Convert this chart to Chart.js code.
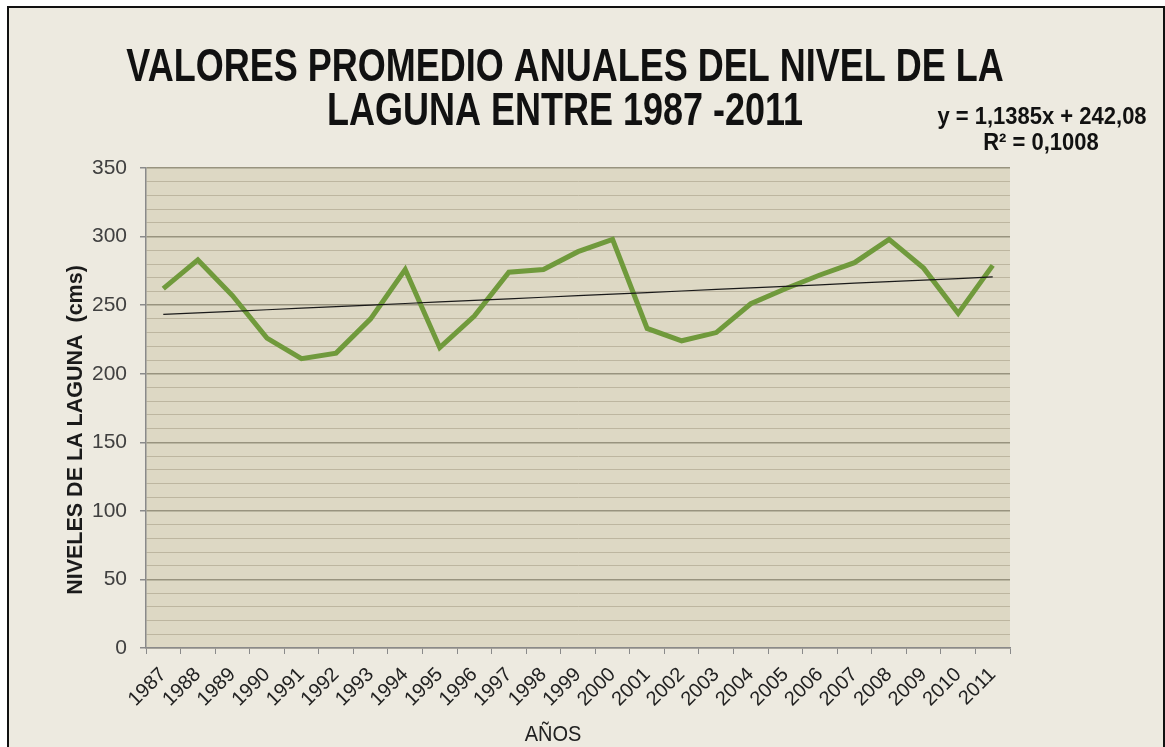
<!DOCTYPE html>
<html>
<head>
<meta charset="utf-8">
<script src="https://cdn.jsdelivr.net/npm/chart.js@4.4.1/dist/chart.umd.min.js"></script>
<style>
  body { margin: 0; background: #ffffff; }
  .frame {
    position: absolute; left: 7px; top: 6px; width: 1154px; height: 760px;
    border: 2px solid #111; background: #edeae0;
  }
  #levelChart { position: absolute; left: 0; top: 0; }
</style>
</head>
<body>
<div class="frame"></div>
<canvas id="levelChart" width="1165" height="747"></canvas>
<script>
// años y niveles promedio (cms)
const years = ['1987', '1988', '1989', '1990', '1991', '1992', '1993', '1994', '1995', '1996', '1997', '1998', '1999',
  '2000', '2001', '2002', '2003', '2004', '2005', '2006', '2007', '2008', '2009', '2010', '2011'];
const levels = [262, 283, 257, 226, 211, 215, 240, 276, 219, 242, 274, 276, 289,
  298, 233, 224, 230, 251, 262, 272, 281, 298, 277, 244, 279];

// linea de tendencia del grafico original
const trendSlope = 1.1385;
const trendIntercept = 242.08;
const trendLabel = ['y = 1,1385x + 242,08', 'R\u00b2 = 0,1008'];

const titleLines = ['VALORES PROMEDIO ANUALES DEL NIVEL DE LA', 'LAGUNA ENTRE 1987 -2011'];
const yTitle = 'NIVELES DE LA LAGUNA  (cms)';
const xTitle = 'A\u00d1OS';

const trendData = years.map((y, i) => trendSlope * (i + 1) + trendIntercept);

const FONT = '"Liberation Sans", Arial, sans-serif';

// texto un poco estirado en vertical, como en la imagen original
function tallText(ctx, text, x, y, sy) {
  ctx.save();
  ctx.translate(x, y);
  ctx.scale(1, sy);
  ctx.fillText(text, 0, 0);
  ctx.restore();
}

const decorPlugin = {
  id: 'decor',
  beforeDraw(chart) {
    const { ctx, chartArea: a } = chart;
    ctx.save();
    ctx.fillStyle = '#ddd8c4';
    ctx.fillRect(a.left, a.top, a.right - a.left, a.bottom - a.top);
    ctx.restore();
  },
  afterDraw(chart) {
    const { ctx } = chart;
    ctx.save();
    ctx.fillStyle = '#111';
    ctx.textAlign = 'center';
    ctx.textBaseline = 'alphabetic';
    ctx.font = 'bold 36px ' + FONT;
    tallText(ctx, titleLines[0], 565, 81, 1.28);
    tallText(ctx, titleLines[1], 565, 125, 1.28);

    ctx.font = 'bold 22px ' + FONT;
    tallText(ctx, trendLabel[0], 1042, 124, 1.12);
    tallText(ctx, trendLabel[1], 1041, 150, 1.12);

    ctx.font = '20px ' + FONT;
    ctx.fillStyle = '#222';
    tallText(ctx, xTitle, 553, 741, 1.1);

    ctx.fillStyle = '#1a1a1a';
    ctx.translate(76, 430);
    ctx.rotate(-Math.PI / 2);
    ctx.textBaseline = 'middle';
    ctx.font = 'bold 21.5px ' + FONT;
    ctx.fillText(yTitle, 0, 0);
    ctx.restore();
  }
};

new Chart(document.getElementById('levelChart').getContext('2d'), {
  type: 'line',
  data: {
    labels: years,
    datasets: [
      {
        label: 'Tendencia',
        data: trendData,
        borderColor: '#1a1a1a',
        borderWidth: 1.2,
        pointRadius: 0,
        order: 0
      },
      {
        label: 'Nivel',
        data: levels,
        borderColor: '#709a3c',
        borderWidth: 5,
        pointRadius: 0,
        tension: 0,
        order: 1
      }
    ]
  },
  options: {
    responsive: false,
    animation: false,
    layout: { padding: { left: 0, top: 168, right: 155, bottom: 0 } },
    plugins: {
      legend: { display: false },
      title: { display: false },
      tooltip: { enabled: false }
    },
    scales: {
      x: {
        offset: true,
        afterFit: (scale) => { scale.height = 99; },
        grid: {
          offset: true,
          drawOnChartArea: false,
          tickLength: 6,
          tickColor: '#8a8a8a'
        },
        border: { color: '#8a8a8a', width: 1.5 },
        ticks: {
          minRotation: 45,
          maxRotation: 45,
          autoSkip: false,
          padding: 9,
          color: '#222',
          font: { family: FONT, size: 20 }
        }
      },
      y: {
        min: 0,
        max: 350,
        afterFit: (scale) => { scale.width = 146; },
        grid: {
          tickLength: 6,
          color: (c) => (c.tick && c.tick.value % 50 === 0 ? '#98937f' : '#bdb6a0'),
          tickColor: (c) => (c.tick && c.tick.value % 50 === 0 ? '#8a8a8a' : 'rgba(0,0,0,0)'),
          lineWidth: (c) => (c.tick && c.tick.value % 50 === 0 ? 1.5 : 1)
        },
        border: { color: '#8a8a8a', width: 1.5 },
        ticks: {
          stepSize: 10,
          autoSkip: false,
          padding: 13,
          color: '#404040',
          font: { family: FONT, size: 21 },
          callback: (v) => (v % 50 === 0 ? v : '')
        }
      }
    }
  },
  plugins: [decorPlugin]
});
</script>
</body>
</html>
